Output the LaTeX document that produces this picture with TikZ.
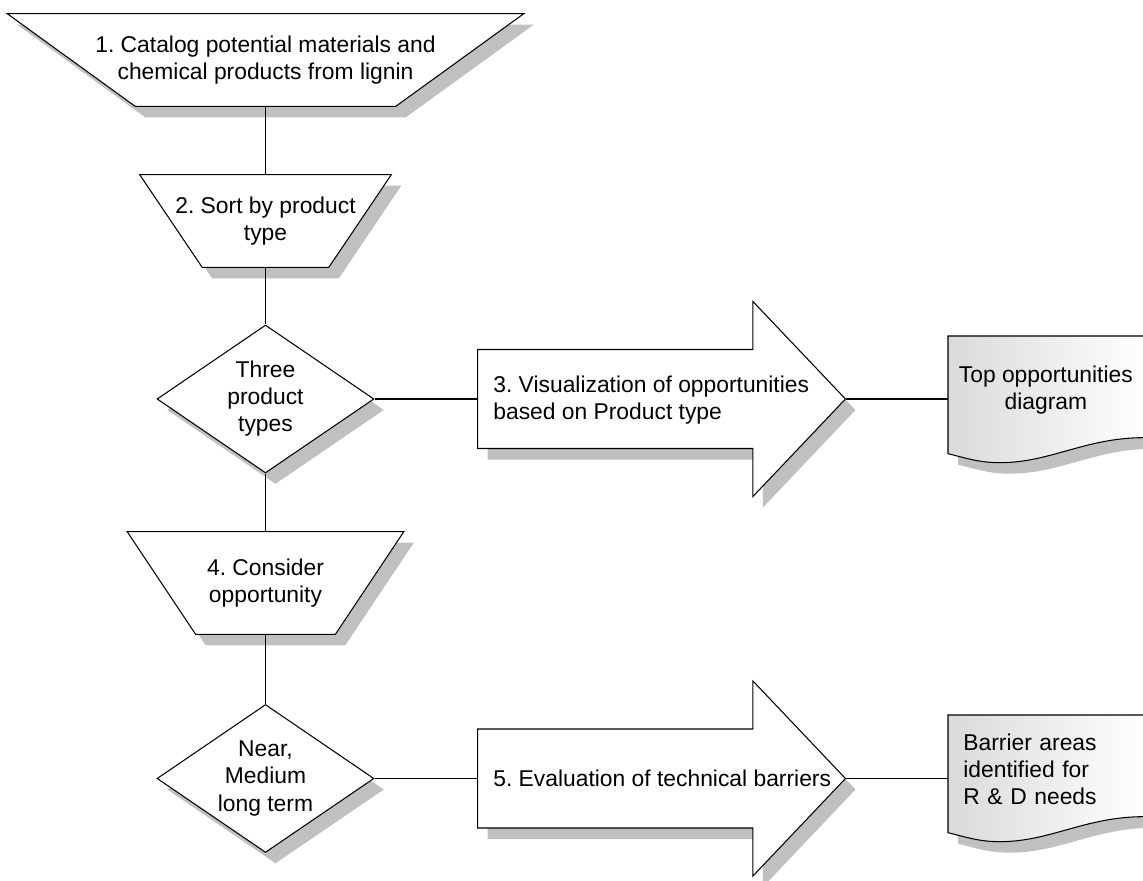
\documentclass[tikz,border=0pt]{standalone}
\usepackage{fontspec}
\setmainfont{Liberation Sans}
\usetikzlibrary{shapes.geometric, shapes.arrows, shadows, calc, backgrounds}
\definecolor{shadowgray}{RGB}{192,192,192}
\definecolor{docgray}{RGB}{218,218,218}
\frenchspacing

\begin{document}
\begin{tikzpicture}[
      x=0.02cm, y=-0.02cm,
      every node/.style={font=\fontsize{13}{15.4}\selectfont},
      boxshadow/.style={drop shadow={shadow xshift=0.2cm, shadow yshift=-0.22cm,
                        fill=shadowgray, opacity=1}},
      trapbox/.style={rectangle, inner sep=0pt, align=center},
      trapline/.style={draw, fill=white, line width=0.6pt, boxshadow},
      decision/.style={diamond, aspect=1.47, inner sep=0pt, minimum width=4.34cm,
                       minimum height=2.96cm, align=center, draw, fill=white,
                       line width=0.6pt, boxshadow},
      stagearrow/.style={single arrow, single arrow head extend=0.96cm,
                         single arrow tip angle=93, minimum height=7.36cm,
                         minimum width=3.88cm, inner ysep=0.98cm, anchor=tail,
                         draw, fill=white, line width=0.6pt, boxshadow},
      docbox/.style={rectangle, anchor=north west, minimum width=3.9cm,
                     minimum height=2.16cm, inner sep=2pt},
      docline/.style={draw, line width=0.6pt, left color=docgray, right color=white,
                      boxshadow},
      txt/.style={align=center, inner sep=0pt},
      conn/.style={line width=0.6pt}
  ]
    \useasboundingbox (0,0) rectangle (1143,881);

    % left column
    \node[trapbox, minimum width=10.32cm, minimum height=1.84cm] (catalog) at (265.5,60)
         {1. Catalog potential materials and\\chemical products from lignin};
    \node[trapbox, minimum width=5.02cm, minimum height=1.84cm] (sort) at (265.5,221)
         {2. Sort by product\\type};
    \node[decision] (types) at (265.5,399) {Three\\product\\types};
    \node[trapbox, minimum width=5.52cm, minimum height=2.04cm] (consider) at (265.5,583)
         {4. Consider\\opportunity};
    \node[decision] (horizon) at (265.5,778.5) {Near,\\Medium\\long term};

    % arrows and results
    \node[stagearrow] (visual) at (477,399) {};
    \node[txt, align=left, anchor=west] (visual-txt) at ($(visual.tail)+(16,1)$)
         {3. Visualization of opportunities\\based on Product type};
    \node[docbox, align=center] (topdoc) at (948,336) {Top opportunities\\diagram};

    \node[stagearrow] (evaluate) at (477,778.5) {};
    \node[txt, align=left, anchor=west] (evaluate-txt) at ($(evaluate.tail)+(16,0)$)
         {5. Evaluation of technical barriers};
    \node[docbox, align=left, text width=3.3cm, inner xsep=0.3cm] (rddoc) at (948,715)
         {Barrier areas\\identified for\\R \& D needs};

    % trapezoid and document outlines
    \begin{scope}[on background layer]
      \foreach \t/\inset in {catalog/128, sort/62.5, consider/68.5}
        \draw[trapline] (\t.north west) -- (\t.north east) -- ($(\t.south east)+(-\inset,0)$)
              -- ($(\t.south west)+(\inset,0)$) -- cycle;
      \foreach \d in {topdoc, rddoc}
        \draw[docline] (\d.north west) -- (\d.north east) -- ($(\d.south east)+(0,-7)$)
              .. controls +(-58,0) and +(50,0) .. ($(\d.south west)+(52,18)$)
              .. controls +(-20,0) and +(20,5) .. ($(\d.south west)+(0,9)$) -- cycle;
    \end{scope}

    % connectors
    \draw[conn] (catalog) -- (sort);
    \draw[conn] (sort) -- (types);
    \draw[conn] (types) -- (consider);
    \draw[conn] (consider) -- (horizon);
    \draw[conn] (types) -- (visual);
    \draw[conn] (visual.tip) -- (visual.tip -| topdoc.west);
    \draw[conn] (horizon) -- (evaluate);
    \draw[conn] (evaluate.tip) -- (evaluate.tip -| rddoc.west);
  \end{tikzpicture}
\end{document}
